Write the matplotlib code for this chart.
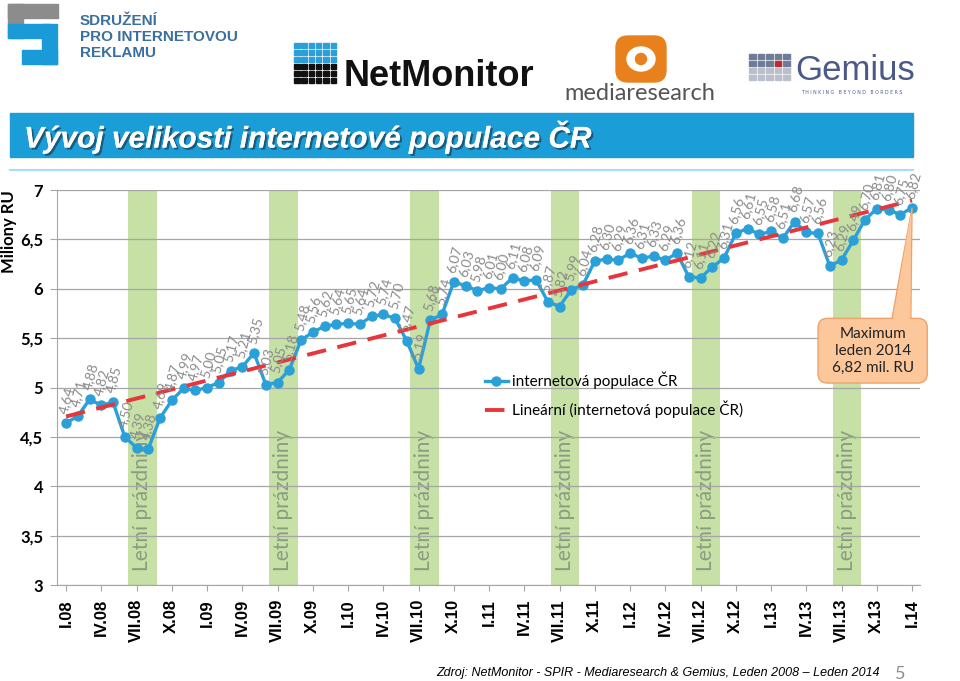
import numpy as np
import matplotlib.pyplot as plt
import matplotlib.patheffects as pe
from matplotlib.patches import Rectangle, FancyBboxPatch, Polygon, Ellipse
from matplotlib.ticker import FuncFormatter

# monthly data I.08 - I.14 (millions of real users)
roman = ['I', 'II', 'III', 'IV', 'V', 'VI', 'VII', 'VIII', 'IX', 'X', 'XI', 'XII']
months = ['%s.%02d' % (m, y) for y in range(8, 14) for m in roman] + ['I.14']

values = [4.64, 4.71, 4.88, 4.82, 4.85, 4.50, 4.39, 4.38, 4.69, 4.87, 4.99, 4.97,
          5.00, 5.05, 5.17, 5.21, 5.35, 5.03, 5.05, 5.18, 5.48, 5.56, 5.62, 5.64,
          5.65, 5.64, 5.72, 5.74, 5.70, 5.47, 5.19, 5.68, 5.74, 6.07, 6.03, 5.98,
          6.01, 6.00, 6.11, 6.08, 6.09, 5.87, 5.82, 5.99, 6.04, 6.28, 6.30, 6.29,
          6.36, 6.31, 6.33, 6.29, 6.36, 6.12, 6.11, 6.22, 6.31, 6.56, 6.61, 6.55,
          6.58, 6.51, 6.68, 6.57, 6.56, 6.23, 6.29, 6.49, 6.70, 6.81, 6.80, 6.75,
          6.82]

tick_labels = ['I.08', 'IV.08', 'VII.08', 'X.08', 'I.09', 'IV.09', 'VII.09', 'X.09',
               'I.10', 'IV.10', 'VII.10', 'X.10', 'I.11', 'IV.11', 'VII.11', 'X.11',
               'I.12', 'IV.12', 'VII.12', 'X.12', 'I.13', 'IV.13', 'VII.13', 'X.13', 'I.14']
summer = ['VII.08', 'VII.09', 'VII.10', 'VII.11', 'VII.12', 'VII.13']

arial = ['Liberation Sans']
calibri = ['Lato', 'DejaVu Sans']

fig = plt.figure(figsize=(9.6, 6.81), dpi=100)

# decoration layer in pixel coordinates
deco = fig.add_axes([0, 0, 1, 1])
deco.set_xlim(0, 960)
deco.set_ylim(681, 0)
deco.axis('off')

# SPIR logo
gray, blue = '#8c8c8c', '#1a9bd7'
deco.add_patch(Rectangle((8, 4), 50, 14, color=gray))
deco.add_patch(Rectangle((8, 4), 15, 34, color=gray))
deco.add_patch(Rectangle((8, 24), 42, 14, color=blue))
deco.add_patch(Rectangle((42, 24), 15, 40, color=blue))
deco.add_patch(Rectangle((22, 50), 35, 14, color=blue))
deco.text(80, 37, 'SDRUŽENÍ\nPRO INTERNETOVOU\nREKLAMU', ha='left', va='center',
          color='#3a6f9f', fontsize=11, fontweight='bold', family=arial, linespacing=1.15)

# NetMonitor logo
for i in range(6):
    for j in range(6):
        c = '#2a9fd8' if j < 3 else '#111111'
        deco.add_patch(Rectangle((294 + i * 7.3, 43 + j * 7), 5.5, 5, color=c))
deco.text(344, 86, 'NetMonitor', ha='left', va='baseline', color='#111111',
          fontsize=26, fontweight='bold', family=arial)

# mediaresearch logo
deco.add_patch(FancyBboxPatch((616, 36), 50, 46, boxstyle='round,pad=0,rounding_size=12',
                              color='#e8801c'))
deco.add_patch(Ellipse((641, 59), 28, 24, color='white'))
deco.add_patch(Ellipse((641, 59), 11, 11, color='#e8801c'))
deco.text(640, 100, 'mediaresearch', ha='center', va='baseline', color='#555555',
          fontsize=17, family=calibri)

# Gemius logo
for i in range(5):
    for j in range(4):
        c = '#c0282d' if (i, j) == (3, 1) else ('#6d7c99' if j < 2 else '#b9c0cc')
        deco.add_patch(Rectangle((749 + i * 8.5, 54 + j * 7), 6.5, 5, color=c))
deco.text(795, 80, 'Gemius', ha='left', va='baseline', color='#4a5987',
          fontsize=25, family=arial)
deco.text(852, 92, 'T H I N K I N G   B E Y O N D   B O R D E R S', ha='center', va='center',
          color='#4a5987', fontsize=3.3)

# title bar
deco.add_patch(Rectangle((10, 113), 903, 44, color='#1b9dd8'))
deco.plot([10, 913], [170, 170], color='#a8def2', lw=1.5)
deco.text(24, 137, 'Vývoj velikosti internetové populace ČR', ha='left', va='center',
          color='white', fontsize=21.5, fontweight='bold', fontstyle='italic', family=arial,
          path_effects=[pe.withSimplePatchShadow(offset=(1.5, -1.5), shadow_rgbFace='#1a4a66',
                                                  alpha=0.8), pe.Normal()])

# footer
deco.text(880, 673, 'Zdroj: NetMonitor - SPIR - Mediaresearch & Gemius, Leden 2008 – Leden 2014',
          ha='right', va='center', fontstyle='italic', fontsize=9, family=arial)
deco.text(900, 674, '5', ha='center', va='center', color='#8c8c8c', fontsize=13, family=calibri)

fig.text(9 / 960, 1 - 232 / 681, 'Miliony RU', rotation=90, ha='center', va='center',
         fontsize=12, fontweight='bold', family=calibri)

# main chart
ax = fig.add_axes([57 / 960, 1 - 585 / 681, (920 - 57) / 960, (585 - 190) / 681])
ax.set_facecolor('none')
x = np.arange(len(values))

for m in summer:
    c = months.index(m) + 0.5
    ax.axvspan(c - 1.2, c + 1.2, color='#c6e0a6', lw=0, zorder=0.1)
    ax.text(c, 3.14, 'Letní prázdniny', rotation=90, ha='center', va='bottom',
            color='#8b9c80', fontsize=15, family=calibri, zorder=0.2)

ax.plot(x, values, color='#2b9fd8', lw=2.4, marker='o', ms=6.5,
        label='internetová populace ČR', zorder=3)
fit = np.polyfit(x, values, 1)
ax.plot(x, np.polyval(fit, x), color='#e8353b', lw=2.8, ls=(0, (5, 3)),
        label='Lineární (internetová populace ČR)', zorder=4)

for xi, v in zip(x, values):
    ax.annotate(('%.2f' % v).replace('.', ','), (xi, v), xytext=(-2, 7),
                textcoords='offset points', rotation=75, rotation_mode='anchor',
                ha='left', va='center', fontsize=10, color='#8a8a8a', family=calibri, zorder=5)

# callout for the maximum
last = len(values) - 1
vmax = values[-1]
fc, ec = '#fbc79b', '#eea36a'
ax.add_patch(Polygon([[last - 1.7, vmax - 1.12], [last, vmax], [last - 0.1, vmax - 1.12]],
                     closed=True, fc=fc, ec=ec, lw=1, zorder=6, clip_on=False))
ax.add_patch(FancyBboxPatch((last - 8.0, vmax - 1.775), 9.3, 0.655,
                            boxstyle='round,pad=0,rounding_size=0.8', mutation_aspect=0.119,
                            fc=fc, ec=ec, lw=1, zorder=6, clip_on=False))
ax.add_patch(Polygon([[last - 1.62, vmax - 1.14], [last - 0.05, vmax - 0.02], [last - 0.16, vmax - 1.14]],
                     closed=True, fc=fc, ec='none', zorder=6.5, clip_on=False))
ax.text(last - 3.35, vmax - 1.45, 'Maximum\nleden 2014\n%s mil. RU' % ('%.2f' % vmax).replace('.', ','),
        ha='center', va='center', fontsize=11, color='#222222', family=calibri,
        linespacing=1.25, zorder=7)

ax.legend(loc='upper left', bbox_to_anchor=(0.48, 0.575), frameon=False,
          prop={'family': calibri, 'size': 11}, handlelength=1.5, labelspacing=0.75,
          handletextpad=0.3)

ax.set_xlim(-0.77, 72.68)
ax.set_ylim(3, 7)
ax.set_yticks(np.arange(3, 7.01, 0.5))
ax.yaxis.set_major_formatter(FuncFormatter(lambda v, p: ('%g' % v).replace('.', ',')))
for t in ax.get_yticklabels():
    t.set_fontweight('bold')
    t.set_family(calibri)
    t.set_fontsize(12)
ax.set_xticks([months.index(t) for t in tick_labels])
ax.set_xticklabels(tick_labels, rotation=90, fontweight='bold', family=arial,
                   fontsize=12)

ax.yaxis.grid(True, color='#a6a6a6', lw=0.9)
ax.set_axisbelow(True)
for s in ['top', 'right']:
    ax.spines[s].set_visible(False)
for s in ['left', 'bottom']:
    ax.spines[s].set_color('#a6a6a6')
ax.tick_params(axis='y', length=5, color='#a6a6a6', pad=5)
ax.tick_params(axis='x', length=4, color='#a6a6a6', pad=6)

fig.savefig('out.png', dpi=100)
